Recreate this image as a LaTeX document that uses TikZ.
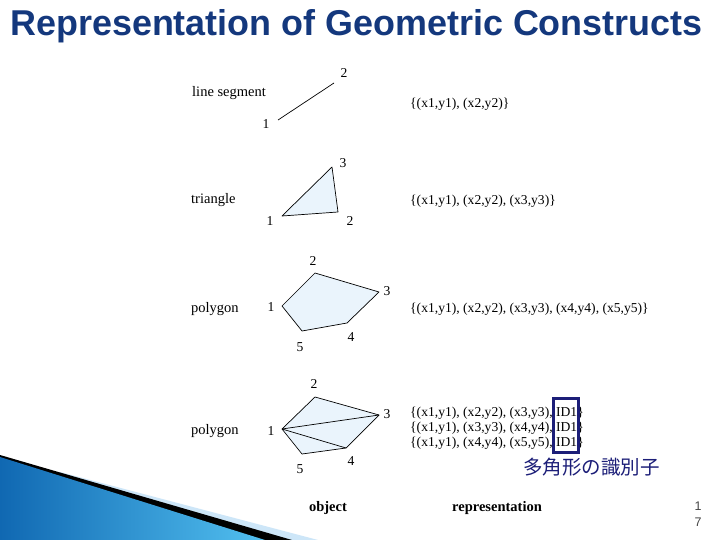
\documentclass[tikz,border=0pt]{standalone}
\usepackage{fontspec}
\setmainfont{Liberation Serif}
\newfontfamily\titlefont{Liberation Sans}
\newfontfamily\cjkfont{Noto Sans CJK JP}
\definecolor{titleblue}{RGB}{20,56,125}
\definecolor{navy}{RGB}{28,30,120}
\definecolor{shapefill}{RGB}{234,244,252}
\definecolor{bandlight}{RGB}{205,230,248}
\definecolor{bluedark}{RGB}{16,104,178}
\definecolor{bluelight}{RGB}{82,192,240}
\definecolor{pagegray}{RGB}{70,70,70}
\tikzset{
  txt/.style={font=\fontsize{13.6}{15}\selectfont, inner sep=0pt},
  rep/.style={txt, anchor=west},
  objname/.style={font=\fontsize{14.5}{16}\selectfont, inner sep=0pt, anchor=west},
  heading/.style={font=\bfseries\fontsize{14.5}{16}\selectfont, inner sep=0pt},
  vnum/.style={txt},
  geom/.style={draw=black, line width=0.7pt, fill=shapefill, line join=round},
  edge/.style={draw=black, line width=0.7pt},
}
\begin{document}
\begin{tikzpicture}[x=1pt, y=-1pt]
\useasboundingbox (0,0) rectangle (720,540);
\fill[white] (0,0) rectangle (720,540);

% bottom-left decoration
\fill[bandlight] (60,472) -- (318,540) -- (0,540) -- (0,472) -- cycle;
\fill[black] (0,455) -- (292,540) -- (0,540) -- cycle;
\shade[left color=bluedark, right color=bluelight] (0,457) -- (265,540) -- (0,540) -- cycle;

% title
\node[font=\titlefont\bfseries\fontsize{35.9}{40}\selectfont, text=titleblue, inner sep=0pt, anchor=base] (title) at (356.5,36) {Representation of Geometric Constructs};

% row 1: line segment
\node[objname] (o1) at (192,93) {line segment};
\coordinate (l1) at (278,120);
\coordinate (l2) at (334,83);
\draw[edge] (l1) -- (l2);
\node[vnum] (n11) at (266,124) {1};
\node[vnum] (n12) at (344,73) {2};
\node[rep] (r1) at (410,104) {\{(x1,y1), (x2,y2)\}};

% row 2: triangle
\node[objname] (o2) at (191,200) {triangle};
\coordinate (t1) at (282,216);
\coordinate (t2) at (338,212);
\coordinate (t3) at (332,167);
\draw[geom] (t1) -- (t2) -- (t3) -- cycle;
\node[vnum] (n21) at (270,221) {1};
\node[vnum] (n22) at (350,221) {2};
\node[vnum] (n23) at (343,163) {3};
\node[rep] (r2) at (410,201) {\{(x1,y1), (x2,y2), (x3,y3)\}};

% row 3: polygon
\node[objname] (o3) at (191,309) {polygon};
\coordinate (p1) at (282,306);
\coordinate (p2) at (315,273);
\coordinate (p3) at (379,292);
\coordinate (p4) at (347,323);
\coordinate (p5) at (302,331);
\draw[geom] (p1) -- (p2) -- (p3) -- (p4) -- (p5) -- cycle;
\node[vnum] (n31) at (271,307) {1};
\node[vnum] (n32) at (313,261) {2};
\node[vnum] (n33) at (387,291) {3};
\node[vnum] (n34) at (351,337) {4};
\node[vnum] (n35) at (300,347) {5};
\node[rep] (r3) at (410,309) {\{(x1,y1), (x2,y2), (x3,y3), (x4,y4), (x5,y5)\}};

% row 4: polygon split into triangles
\node[objname] (o4) at (191,431) {polygon};
\coordinate (q1) at (282,429);
\coordinate (q2) at (315,397);
\coordinate (q3) at (379,415);
\coordinate (q4) at (346,448);
\coordinate (q5) at (302,454);
\draw[geom] (q1) -- (q2) -- (q3) -- (q4) -- (q5) -- cycle;
\draw[edge] (q1) -- (q3);
\draw[edge] (q1) -- (q4);
\node[vnum] (n41) at (271,431) {1};
\node[vnum] (n42) at (314,384) {2};
\node[vnum] (n43) at (387,414) {3};
\node[vnum] (n44) at (351,461) {4};
\node[vnum] (n45) at (300,469) {5};
\node[rep] (r4a) at (410,413) {\{(x1,y1), (x2,y2), (x3,y3), ID1\}};
\node[rep] (r4b) at (410,428) {\{(x1,y1), (x3,y3), (x4,y4), ID1\}};
\node[rep] (r4c) at (410,443) {\{(x1,y1), (x4,y4), (x5,y5), ID1\}};
\draw[navy, line width=3pt] (553,398) rectangle (578,452);
\node[font=\cjkfont\fontsize{19.5}{22}\selectfont, text=navy, inner sep=0pt, anchor=west] (idlabel) at (523,467) {多角形の識別子};

% column headings
\node[heading] (hobj) at (328,508) {object};
\node[heading] (hrep) at (497,508) {representation};

% page number
\node[font=\titlefont\fontsize{12.5}{14}\selectfont, text=pagegray, inner sep=0pt] (pg1) at (698,506) {1};
\node[font=\titlefont\fontsize{12.5}{14}\selectfont, text=pagegray, inner sep=0pt] (pg2) at (698,522) {7};
\end{tikzpicture}
\end{document}
